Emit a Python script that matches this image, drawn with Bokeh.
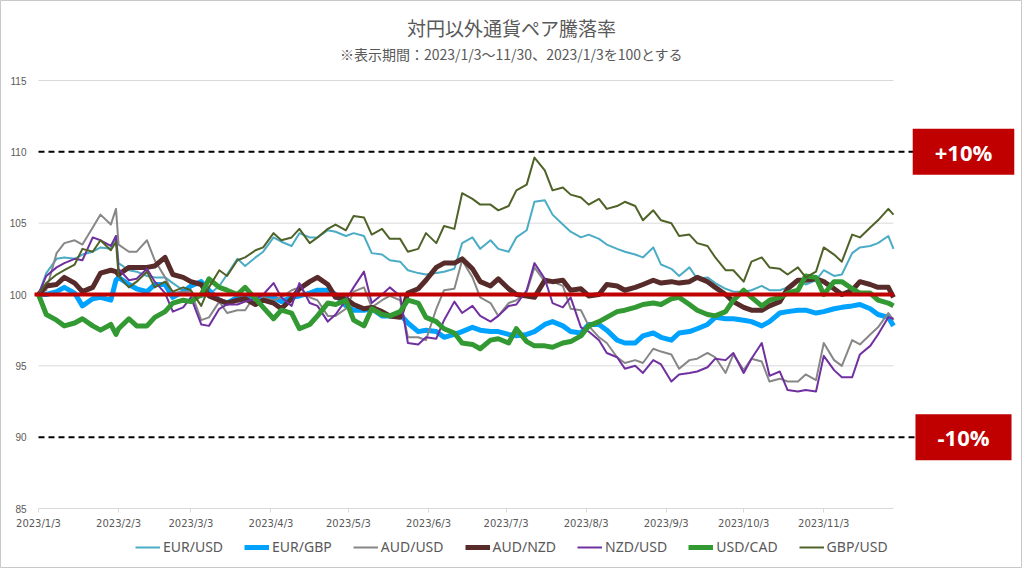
import pandas as pd
from bokeh.plotting import figure
from bokeh.models import Range1d, FixedTicker, Legend, LegendItem, Label
from bokeh.embed import file_html
from bokeh.resources import INLINE

# ---------------- data ----------------
dates = [
    "2023-01-03", "2023-01-06", "2023-01-10", "2023-01-13", "2023-01-17", "2023-01-20", "2023-01-24", "2023-01-27",
    "2023-01-31", "2023-02-02", "2023-02-03", "2023-02-07", "2023-02-10", "2023-02-14", "2023-02-17", "2023-02-21",
    "2023-02-24", "2023-02-28", "2023-03-03", "2023-03-07", "2023-03-10", "2023-03-14", "2023-03-17", "2023-03-21",
    "2023-03-24", "2023-03-28", "2023-03-31", "2023-04-04", "2023-04-07", "2023-04-11", "2023-04-14", "2023-04-18",
    "2023-04-21", "2023-04-25", "2023-04-28", "2023-05-02", "2023-05-05", "2023-05-09", "2023-05-12", "2023-05-16",
    "2023-05-19", "2023-05-23", "2023-05-26", "2023-05-30", "2023-06-02", "2023-06-06", "2023-06-09", "2023-06-13",
    "2023-06-16", "2023-06-20", "2023-06-23", "2023-06-27", "2023-06-30", "2023-07-04", "2023-07-07", "2023-07-11",
    "2023-07-14", "2023-07-18", "2023-07-21", "2023-07-25", "2023-07-28", "2023-08-01", "2023-08-04", "2023-08-08",
    "2023-08-11", "2023-08-15", "2023-08-18", "2023-08-22", "2023-08-25", "2023-08-29", "2023-09-01", "2023-09-05",
    "2023-09-08", "2023-09-12", "2023-09-15", "2023-09-19", "2023-09-22", "2023-09-26", "2023-09-29", "2023-10-03",
    "2023-10-06", "2023-10-10", "2023-10-13", "2023-10-17", "2023-10-20", "2023-10-24", "2023-10-27", "2023-10-31",
    "2023-11-03", "2023-11-07", "2023-11-10", "2023-11-14", "2023-11-17", "2023-11-21", "2023-11-24", "2023-11-28",
    "2023-11-30",
]

eur_usd = [
    100.0, 101.5, 102.5, 102.6, 102.5, 102.8, 103.0, 103.3, 103.2, 104.1, 102.2,
    101.7, 101.6, 101.3, 101.2, 101.2, 100.8, 100.3, 99.9,
    99.8, 100.0, 100.6, 101.4, 102.5, 102.0, 102.6, 103.0,
    104.0, 103.7, 103.4, 104.3, 104.0, 104.0,
    104.5, 104.4, 104.1, 104.3, 104.1, 102.9, 102.8, 102.4,
    102.3, 101.7, 101.5, 101.4, 101.5, 101.6, 101.8, 103.6,
    104.0, 103.2, 103.8, 103.2, 103.0, 104.0, 104.5, 106.5,
    106.6, 105.6, 104.9, 104.4, 104.0, 104.2, 103.9,
    103.5, 103.2, 103.0, 102.8, 102.6, 103.3, 102.1, 101.8,
    101.3, 101.9, 101.1, 101.2, 100.8, 100.4, 100.2, 100.2,
    100.3, 100.6, 100.3, 100.3, 100.5, 101.1, 100.7, 101.0,
    101.7, 101.3, 101.4, 102.9, 103.3, 103.4, 103.6, 104.1, 103.2,
]

eur_gbp = [
    100.0, 100.0, 100.2, 100.5, 100.1, 99.2, 99.7, 99.8, 99.6, 101.0, 101.2,
    100.7, 100.4, 100.2, 100.7, 100.7, 99.8, 100.2, 100.6,
    100.9, 100.3, 99.6, 99.4, 99.8, 99.9, 99.8, 99.8,
    99.8, 99.5, 99.8, 99.9, 100.1, 100.3,
    100.3, 100.0, 99.2, 98.9, 98.9, 99.0, 98.5, 98.5,
    98.6, 98.0, 97.4, 97.5, 97.4, 97.0, 97.2, 97.4,
    97.7, 97.5, 97.4, 97.4, 97.2, 97.1, 97.2, 97.4,
    97.9, 98.1, 97.8, 97.4, 97.3, 97.9, 97.9,
    97.5, 96.8, 96.6, 96.6, 97.1, 97.3, 97.0, 96.8,
    97.3, 97.4, 97.6, 97.9, 98.4, 98.3, 98.3, 98.2,
    98.1, 97.8, 98.1, 98.7, 98.8, 98.9, 98.9, 98.7,
    98.8, 99.0, 99.1, 99.2, 99.3, 99.0, 98.6, 98.4, 97.8,
]

aud_usd = [
    100.0, 100.3, 102.9, 103.6, 103.8, 103.5, 104.7, 105.6, 104.9, 106.0, 103.5,
    103.0, 103.0, 103.8, 102.4, 101.2, 100.1, 100.2, 100.2,
    98.2, 98.4, 99.5, 98.7, 98.9, 98.9, 100.0, 99.8,
    99.6, 99.8, 100.3, 100.5, 99.8, 99.6,
    98.5, 98.5, 99.0, 100.2, 100.5, 99.1, 99.6, 99.9,
    99.6, 97.0, 97.0, 96.8, 99.0, 100.3, 100.4, 102.4,
    101.2, 99.8, 99.4, 98.5, 99.4, 99.6, 100.2, 101.9,
    100.9, 100.9, 100.6, 99.0, 98.9, 97.8, 97.0,
    96.6, 95.6, 95.2, 95.4, 95.2, 96.2, 96.0, 95.8,
    94.8, 95.4, 95.5, 95.9, 95.6, 94.5, 95.8, 94.7,
    95.5, 95.3, 93.9, 94.1, 93.9, 93.9, 94.4, 94.0,
    96.6, 95.4, 95.0, 96.8, 96.5, 97.2, 97.7, 98.7, 98.2,
]

aud_nzd = [
    100.0, 100.6, 100.7, 101.2, 100.8, 100.2, 100.5, 101.5, 101.7, 101.6, 101.4,
    101.9, 101.9, 101.9, 102.0, 102.6, 101.4, 101.2, 100.9,
    100.7, 99.9, 99.6, 99.4, 99.6, 99.7, 99.3, 99.6,
    99.4, 99.0, 99.7, 100.4, 100.9, 101.2,
    100.7, 99.8, 99.7, 99.3, 99.0, 99.1, 98.8, 98.5,
    98.4, 100.1, 100.4, 101.0, 101.9, 102.2, 102.2, 102.5,
    101.8, 100.9, 100.6, 101.1, 100.4, 100.0, 99.9, 99.8,
    101.0, 100.9, 101.0, 100.3, 100.4, 99.9, 100.0,
    100.7, 100.6, 100.3, 100.5, 100.7, 101.0, 100.8, 100.9,
    100.8, 100.9, 101.2, 100.9, 100.5, 100.0, 99.5, 99.1,
    98.9, 98.9, 99.2, 99.5, 100.4, 101.0, 101.0, 101.1,
    100.9, 100.4, 100.0, 100.3, 100.9, 100.7, 100.5, 100.5, 99.8,
]

nzd_usd = [
    100.0, 101.3, 101.9, 102.2, 102.5, 102.4, 104.0, 103.8, 103.4, 104.1, 101.8,
    101.0, 101.1, 101.8, 100.9, 100.1, 98.8, 99.1, 99.8,
    97.9, 97.8, 99.0, 99.3, 99.3, 99.5, 99.7, 100.0,
    100.8, 99.8, 99.2, 100.8, 99.4, 99.2,
    98.1, 98.6, 99.6, 100.5, 101.6, 99.4, 100.0, 100.5,
    99.9, 96.6, 96.5, 97.0, 96.9, 98.2, 99.5, 98.7,
    99.2, 98.5, 98.1, 98.5, 99.2, 99.3, 100.3, 102.2,
    101.1, 99.4, 99.1, 99.8, 97.7, 97.4, 96.8,
    95.9, 95.6, 94.8, 95.0, 94.5, 95.4, 95.1, 93.9,
    94.4, 94.5, 94.6, 94.9, 95.5, 95.4, 95.9, 94.5,
    95.5, 96.6, 94.3, 94.6, 93.3, 93.2, 93.3, 93.2,
    95.7, 94.7, 94.2, 94.2, 95.8, 96.4, 97.2, 98.4, 98.3,
]

usd_cad = [
    100.0, 98.6, 98.2, 97.8, 98.0, 98.3, 97.8, 97.5, 97.9, 97.2, 97.6,
    98.3, 97.8, 97.8, 98.4, 98.8, 99.4, 99.6, 99.5,
    100.0, 101.1, 100.5, 100.3, 100.0, 100.5, 99.7, 99.1,
    98.3, 98.9, 98.7, 97.6, 97.9, 98.5,
    99.4, 99.3, 99.6, 98.2, 97.8, 99.0, 98.6, 98.5,
    98.8, 99.6, 99.4, 98.4, 98.1, 97.6, 97.3, 96.6,
    96.5, 96.2, 96.8, 96.9, 96.6, 97.6, 96.7, 96.4,
    96.4, 96.3, 96.6, 96.7, 97.1, 97.8, 98.1,
    98.4, 98.8, 98.9, 99.1, 99.3, 99.4, 99.3, 99.7,
    99.8, 99.3, 98.9, 98.6, 98.5, 98.8, 99.6, 100.3,
    99.8, 99.2, 99.6, 99.8, 100.1, 100.3, 101.3, 101.2,
    100.0, 100.9, 100.9, 100.4, 100.1, 100.1, 99.6, 99.4, 99.2,
]

gbp_usd = [
    100.0, 100.8, 101.4, 101.7, 102.1, 103.2, 103.0, 103.8, 103.1, 103.7, 101.3,
    100.5, 100.9, 101.6, 100.5, 100.9, 100.2, 100.5, 100.3,
    99.2, 100.5, 101.7, 101.3, 102.4, 102.6, 103.1, 103.3,
    104.3, 103.8, 104.0, 104.6, 103.6, 104.0,
    104.6, 104.9, 104.5, 105.5, 105.4, 104.2, 104.6, 103.9,
    103.9, 103.0, 103.2, 104.3, 103.6, 104.8, 104.6, 107.1,
    106.7, 106.3, 106.3, 105.9, 106.2, 107.3, 107.7, 109.6,
    108.7, 107.3, 107.5, 107.0, 106.8, 106.3, 106.7,
    106.0, 106.2, 106.5, 106.2, 105.2, 105.9, 105.2, 105.0,
    104.1, 104.2, 103.6, 103.4, 102.6, 101.7, 101.7, 100.9,
    102.3, 102.6, 101.9, 101.8, 101.4, 101.9, 101.2, 101.6,
    103.3, 102.8, 102.3, 104.2, 104.0, 104.7, 105.2, 106.0, 105.6,
]

series_names = ["EUR/USD", "EUR/GBP", "AUD/USD", "AUD/NZD", "NZD/USD", "USD/CAD", "GBP/USD"]
series_values = [eur_usd, eur_gbp, aud_usd, aud_nzd, nzd_usd, usd_cad, gbp_usd]
series_colors = ["#4BACC6", "#00A2FF", "#878787", "#572B29", "#7030A0", "#339933", "#4F6228"]
series_widths = [2, 5, 2, 5, 2, 5, 2]

tick_dates = ["2023-01-03", "2023-02-03", "2023-03-03", "2023-04-03", "2023-05-03", "2023-06-03",
              "2023-07-03", "2023-08-03", "2023-09-03", "2023-10-03", "2023-11-03"]
tick_labels = ["2023/1/3", "2023/2/3", "2023/3/3", "2023/4/3", "2023/5/3", "2023/6/3",
               "2023/7/3", "2023/8/3", "2023/9/3", "2023/10/3", "2023/11/3"]
y_ticks = [85, 90, 95, 100, 105, 110, 115]
grid_levels = [85, 95, 105, 115]

base_level = 100
band_levels = [110, 90]
band_labels = ["+10%", "-10%"]

title_text = "対円以外通貨ペア騰落率"
subtitle_text = "※表示期間：2023/1/3～11/30、2023/1/3を100とする"

# ---------------- layout constants (pixels, page coordinates) ----------------
W, H = 1022, 568
DATA_L, DATA_R = 38, 893          # pixel x of first / last date
PX_Y85, PX_Y115 = 508, 80         # pixel y of 85 / 115
TEXT = "#595959"

x = pd.to_datetime(dates)
t0, t1 = x[0], x[-1]
px_per_day = (DATA_R - DATA_L) / ((t1 - t0) / pd.Timedelta(days=1))
px_per_unit = (PX_Y85 - PX_Y115) / (115 - 85)

def px_to_time(px):
    return t0 + pd.Timedelta(days=(px - DATA_L) / px_per_day)

def py_to_val(py):
    return 85 + (PX_Y85 - py) / px_per_unit

def ms(t):
    return int(pd.Timestamp(t).timestamp() * 1000)

p = figure(width=W, height=H, x_axis_type="datetime",
           x_range=Range1d(px_to_time(0), px_to_time(W)),
           y_range=Range1d(py_to_val(H), py_to_val(0)),
           output_backend="svg", toolbar_location=None,
           min_border_left=0, min_border_right=0, min_border_top=0, min_border_bottom=0)
p.title.visible = False
p.outline_line_color = "#C8C8C8"
p.outline_line_width = 1
p.background_fill_color = "white"
p.border_fill_color = "white"

tick_ms = [ms(s) for s in tick_dates]
xa = p.xaxis[0]
xa.fixed_location = 85
xa.ticker = FixedTicker(ticks=tick_ms)
xa.major_label_overrides = {t: lab for t, lab in zip(tick_ms, tick_labels)}
xa.axis_line_color = None
xa.major_tick_line_color = "#D9D9D9"
xa.major_tick_out = 4
xa.major_tick_in = 0
xa.minor_tick_line_color = None
xa.major_label_standoff = 5
xa.major_label_text_font = "DejaVu Sans"
xa.major_label_text_font_size = "10px"
xa.major_label_text_color = TEXT

ya = p.yaxis[0]
ya.fixed_location = ms(px_to_time(33))
ya.ticker = FixedTicker(ticks=y_ticks)
ya.axis_line_color = None
ya.major_tick_line_color = None
ya.minor_tick_line_color = None
ya.major_tick_out = 0
ya.major_tick_in = 0
ya.major_label_standoff = 7
ya.major_label_text_font = "Liberation Sans"
ya.major_label_text_font_size = "10px"
ya.major_label_text_color = TEXT

p.xgrid.visible = False
p.ygrid.visible = False

# horizontal gridlines over the data span only (85 doubles as the axis line)
p.segment(x0=[t0] * len(grid_levels), x1=[t1] * len(grid_levels), y0=grid_levels, y1=grid_levels,
          line_color="#D9D9D9", line_width=1)

items = []
for name, vals, col, w in zip(series_names, series_values, series_colors, series_widths):
    r = p.line(x, vals, line_color=col, line_width=w, line_join="round")
    items.append(LegendItem(label=name, renderers=[r]))

# reference lines
p.segment(x0=[px_to_time(34)], x1=[t1], y0=[base_level], y1=[base_level],
          line_color="#C00000", line_width=4)
band_end = px_to_time(915)
p.segment(x0=[t0] * 2, x1=[band_end] * 2, y0=band_levels, y1=band_levels,
          line_color="black", line_width=2, line_dash="6 4")

for lvl, lab in zip(band_levels, band_labels):
    p.add_layout(Label(x=963, y=lvl, x_units="screen", y_units="data", text=lab,
                       text_align="center", text_baseline="middle",
                       text_font="Open Sans", text_font_style="bold", text_font_size="22px",
                       text_color="white", background_fill_color="#C00000",
                       padding=dict(left=22, right=22, top=8, bottom=8)))

p.add_layout(Label(x=511, y=H - 27, x_units="screen", y_units="screen", text=title_text,
                   text_align="center", text_baseline="middle",
                   text_font="Noto Sans CJK JP", text_font_size="19px", text_color=TEXT))
p.add_layout(Label(x=511, y=H - 53, x_units="screen", y_units="screen", text=subtitle_text,
                   text_align="center", text_baseline="middle",
                   text_font="Noto Sans CJK JP", text_font_size="14px", text_color=TEXT))

legend = Legend(items=items, orientation="horizontal", location=(135, H - 556),
                glyph_width=25, glyph_height=18, label_height=18, label_standoff=3, spacing=21,
                padding=0, margin=0, border_line_alpha=0, background_fill_alpha=0,
                label_text_font="Noto Sans", label_text_font_size="14px", label_text_color=TEXT)
p.add_layout(legend, "center")

open("out.html", "w").write(file_html(p, INLINE))
